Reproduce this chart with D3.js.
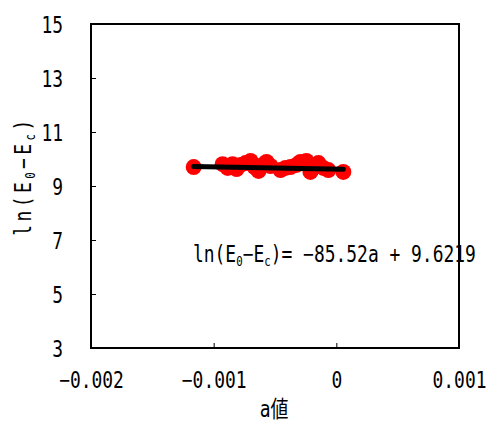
<!DOCTYPE html>
<html>
<head>
<meta charset="utf-8">
<script src="https://cdn.jsdelivr.net/npm/d3@7"></script>
<style>
  body { margin: 0; background: #fff; }
  svg { display: block; }
  text { font-family: "DejaVu Sans Mono", "Noto Sans CJK JP", monospace; fill: #000; }
</style>
</head>
<body>
<svg id="chart" width="486" height="423"></svg>
<script>
// Sample values: a and ln(E0 - Ec)
const aValues = [-0.001163, -0.000927, -0.000886, -0.000846, -0.000813, -0.000780, -0.000740,
  -0.000699, -0.000667, -0.000634, -0.000602, -0.000569, -0.000537, -0.000455, -0.000415,
  -0.000374, -0.000325, -0.000293, -0.000244, -0.000211, -0.000187, -0.000146, -0.000106,
  -0.000065, 0.000057];
const lnValues = [9.70, 9.81, 9.67, 9.81, 9.63, 9.78, 9.85,
  9.93, 9.70, 9.56, 9.78, 9.89, 9.74, 9.59, 9.67,
  9.70, 9.78, 9.89, 9.93, 9.52, 9.74, 9.85, 9.67,
  9.59, 9.52];
// Linear fit: ln(E0-Ec) = slope * a + intercept
const slope = -85.52;
const intercept = 9.6219;
const xTicks = [-0.002, -0.001, 0, 0.001];
const xTickLabels = ["−0.002", "−0.001", "0", "0.001"];
const yTicks = [3, 5, 7, 9, 11, 13, 15];

const FS = 23;     // font size
const SX = 0.78;   // horizontal condensing of glyphs

const svg = d3.select("#chart");
const m = { left: 91, right: 459, top: 24, bottom: 348 };

const x = d3.scaleLinear().domain([-0.002, 0.001]).range([m.left, m.right]);
const y = d3.scaleLinear().domain([3, 15]).range([m.bottom, m.top]);

// Condensed text: scale horizontally, keeping the anchor point in place
function condensed(sel, px) {
  sel.attr("x", px / SX).attr("transform", `scale(${SX},1)`);
}

// Plot frame
svg.append("rect")
  .attr("x", m.left).attr("y", m.top)
  .attr("width", m.right - m.left).attr("height", m.bottom - m.top)
  .attr("fill", "none").attr("stroke", "#000").attr("stroke-width", 2);

// Axes with inward ticks
const xAxis = svg.append("g").attr("transform", `translate(0,${m.bottom})`)
  .call(d3.axisBottom(x).tickValues(xTicks).tickSize(-5)
    .tickFormat((d, i) => xTickLabels[i]));
const yAxis = svg.append("g").attr("transform", `translate(${m.left},0)`)
  .call(d3.axisLeft(y).tickValues(yTicks).tickSize(-5));

[xAxis, yAxis].forEach(g => {
  g.select(".domain").remove();
  g.selectAll(".tick line").attr("stroke", "#000").attr("stroke-width", 1);
  g.selectAll(".tick text").attr("font-size", FS).attr("fill", "#000")
    .attr("font-family", "DejaVu Sans Mono");
});
xAxis.selectAll(".tick text").attr("y", 40).attr("dy", 0).call(condensed, 0);
yAxis.selectAll(".tick text").attr("dy", "0.36em").call(condensed, -28);

// Data points
svg.append("g").selectAll("circle")
  .data(aValues.map((a, i) => [a, lnValues[i]]))
  .join("circle")
  .attr("cx", d => x(d[0]))
  .attr("cy", d => y(d[1]))
  .attr("r", 8)
  .attr("fill", "#ff0000");

// Fitted line over the data range
const [aMin, aMax] = d3.extent(aValues);
svg.append("line")
  .attr("x1", x(aMin)).attr("y1", y(slope * aMin + intercept))
  .attr("x2", x(aMax)).attr("y2", y(slope * aMax + intercept))
  .attr("stroke", "#000").attr("stroke-width", 5).attr("stroke-linecap", "round");

// ln(E0−Ec) label with subscripts
function lnLabel(t) {
  t.append("tspan").text("ln(E");
  t.append("tspan").attr("font-size", FS * 0.6).attr("dy", 4).text("0");
  t.append("tspan").attr("dy", -4).text("−E");
  t.append("tspan").attr("font-size", FS * 0.6).attr("dy", 4).text("c");
  t.append("tspan").attr("dy", -4).text(")");
}

// Fit equation
const eq = svg.append("text").attr("y", 262).attr("font-size", FS).call(condensed, 193);
lnLabel(eq);
eq.append("tspan").attr("xml:space", "preserve")
  .text(`= −${Math.abs(slope).toFixed(2)}a + ${intercept}`);

// Axis titles
svg.append("text").attr("y", 417).attr("text-anchor", "middle")
  .attr("font-size", FS).call(condensed, 274).text("a値");

const yt = svg.append("text")
  .attr("transform", `translate(31,176) rotate(-90) scale(${SX},1)`)
  .attr("text-anchor", "middle").attr("font-size", FS)
  .attr("letter-spacing", 4.4);
lnLabel(yt);
</script>
</body>
</html>
